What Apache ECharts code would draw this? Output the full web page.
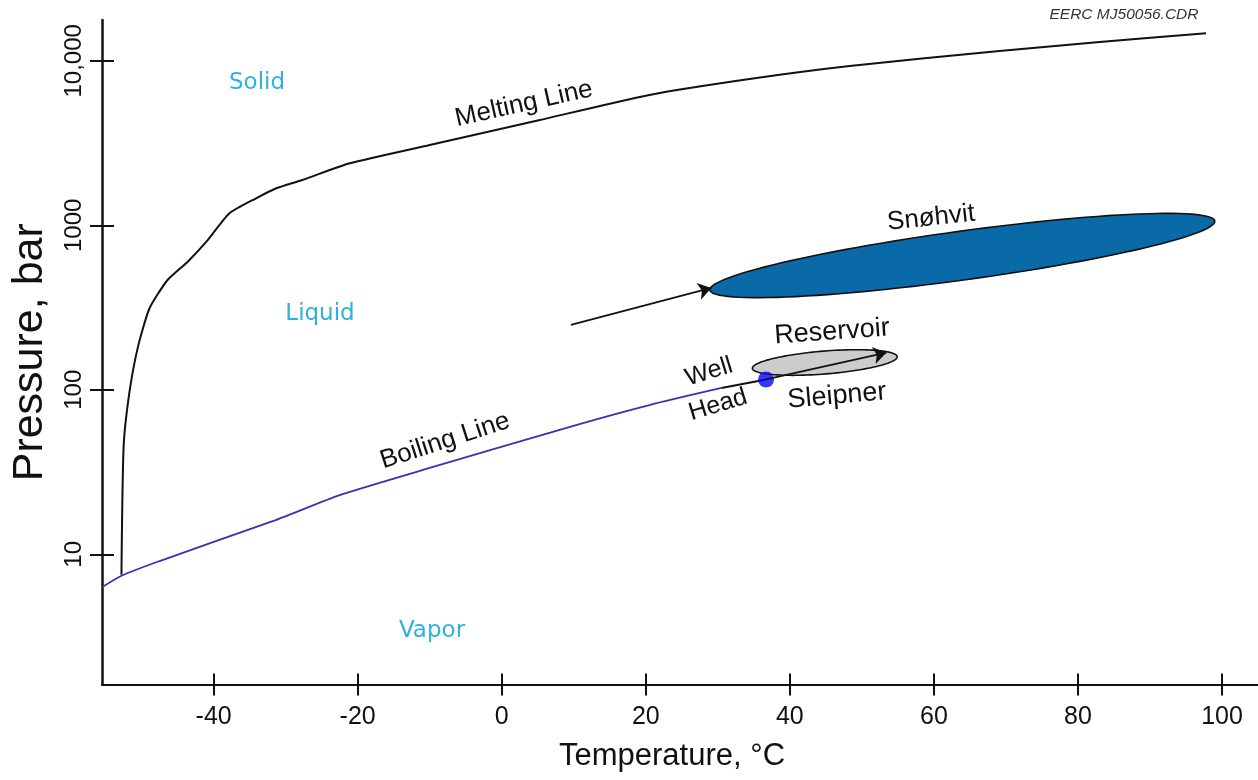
<!DOCTYPE html>
<html>
<head>
<meta charset="utf-8">
<script src="https://cdn.jsdelivr.net/npm/echarts@6/dist/echarts.min.js"></script>
<style>
html,body{margin:0;padding:0;background:#fff;}
#chart{width:1258px;height:780px;}
</style>
</head>
<body>
<div id="chart"></div>
<script>
// ---- data (temperature in °C, pressure in bar) ----
const tempTicks = [-40, -20, 0, 20, 40, 60, 80, 100];
const pressureTicks = [10, 100, 1000, 10000];

const meltingT = [-52.8, -52.5, -51.7, -50.5, -48.9, -46.4, -43.6, -41.0, -37.8, -34.1, -31.3, -27.7, -21.1, -10.0, 5.3, 20.5, 34.4, 48.3, 69.1, 83.0, 97.8];
const meltingP = [7.5, 45, 96, 183, 313, 465, 601, 795, 1183, 1459, 1679, 1885, 2382, 3076, 4366, 6198, 7745, 9290, 11470, 13000, 14690];

const boilingT = [-55.5, -52.8, -47.5, -31.3, -22.5, -10.0, 10.8, 20.5, 30.5];
const boilingP = [6.3, 7.4, 9.1, 16.2, 22.9, 33.5, 61.9, 80.8, 102.6];

const wellHeadLinkT = [30.5, 36.7];
const wellHeadLinkP = [102.6, 115.5];
const wellHead = [36.7, 115.5];

const sleipnerArrowT = [36.7, 53.4];
const sleipnerArrowP = [115.5, 168];
const snohvitArrowT = [9.6, 29.1];
const snohvitArrowP = [248, 416];

// ellipse: [T left end, P left end, T right end, P right end, T centre, P top edge at centre]
const snohvitEllipse = [28.9, 404, 99.0, 1062, 63.9, 924];
const sleipnerEllipse = [34.8, 135, 54.9, 159, 44.8, 172];

const chart = echarts.init(document.getElementById('chart'));
const FONT = '"Liberation Sans", Arial, Helvetica, sans-serif';
const RFONT = '"DejaVu Sans", Verdana, sans-serif';

function ellipseRender(fill) {
  return function (params, api) {
    const p1 = api.coord([api.value(0), api.value(1)]);
    const p2 = api.coord([api.value(2), api.value(3)]);
    const pt = api.coord([api.value(4), api.value(5)]);
    const cx = (p1[0] + p2[0]) / 2, cy = (p1[1] + p2[1]) / 2;
    const a = Math.hypot(p2[0] - p1[0], p2[1] - p1[1]) / 2;
    const ang = Math.atan2(p2[1] - p1[1], p2[0] - p1[0]);
    const b = Math.abs((pt[0] - cx) * Math.sin(ang) - (pt[1] - cy) * Math.cos(ang));
    const pts = [];
    for (let i = 0; i < 120; i++) {
      const t = i / 120 * Math.PI * 2;
      const ex = a * Math.cos(t), ey = b * Math.sin(t);
      pts.push([cx + ex * Math.cos(ang) - ey * Math.sin(ang), cy + ex * Math.sin(ang) + ey * Math.cos(ang)]);
    }
    return { type: 'polygon', shape: { points: pts }, style: { fill: fill, stroke: '#111', lineWidth: 1.6 } };
  };
}

const zip = (a, b) => a.map((v, i) => [v, b[i]]);

function txt(text, x, y, deg, size, color, family) {
  return {
    type: 'text', x: x, y: y, rotation: deg * Math.PI / 180, z: 100,
    style: { text: text, fontSize: size, fontFamily: family || FONT, fill: color || '#111', align: 'center', verticalAlign: 'middle' }
  };
}

const xBase = { type: 'value', min: -55.5, max: 105, splitLine: { show: false } };
const yBase = { type: 'log', logBase: 10, min: 1.616, max: 17700, splitLine: { show: false } };

chart.setOption({
  animation: false,
  backgroundColor: '#fff',
  grid: { left: 102, right: 0, top: 20, bottom: 95.5, containLabel: false, outerBoundsMode: 'none' },
  xAxis: [
    Object.assign({}, xBase, {
      position: 'bottom',
      name: 'Temperature, °C', nameLocation: 'middle', nameGap: 56,
      nameTextStyle: { fontSize: 31, fontFamily: FONT, color: '#111', padding: [0, 16, 0, 0] },
      axisLine: { show: true, onZero: false, lineStyle: { color: '#111', width: 2 } },
      axisTick: { show: true, inside: false, length: 11, lineStyle: { color: '#111', width: 2 }, customValues: tempTicks },
      axisLabel: { show: true, fontSize: 25, fontFamily: FONT, color: '#111', margin: 20, customValues: tempTicks }
    }),
    Object.assign({}, xBase, {
      position: 'bottom',
      axisLine: { show: false, onZero: false },
      axisTick: { show: true, inside: true, length: 11, lineStyle: { color: '#111', width: 2 }, customValues: tempTicks },
      axisLabel: { show: false }
    })
  ],
  yAxis: [
    Object.assign({}, yBase, {
      position: 'left',
      name: 'Pressure, bar', nameLocation: 'middle', nameGap: 50, nameRotate: 90,
      nameTextStyle: { fontSize: 43, fontFamily: FONT, color: '#111' },
      axisLine: { show: true, onZero: false, lineStyle: { color: '#111', width: 2.5 } },
      axisTick: { show: true, inside: false, length: 12, lineStyle: { color: '#111', width: 2 }, customValues: pressureTicks },
      axisLabel: {
        show: true, rotate: 90, fontSize: 24, fontFamily: FONT, color: '#111', margin: 16,
        customValues: pressureTicks,
        formatter: v => (v >= 10000 ? '10,000' : String(Math.round(v)))
      }
    }),
    Object.assign({}, yBase, {
      position: 'left',
      axisLine: { show: false, onZero: false },
      axisTick: { show: true, inside: true, length: 12, lineStyle: { color: '#111', width: 2 }, customValues: pressureTicks },
      axisLabel: { show: false }
    })
  ],
  series: [
    {
      name: 'Melting Line', type: 'line', data: zip(meltingT, meltingP),
      showSymbol: false, symbol: 'none', smooth: 0.2,
      lineStyle: { color: '#111', width: 2 }, z: 3
    },
    {
      name: 'Boiling Line', type: 'line', data: zip(boilingT, boilingP),
      showSymbol: false, symbol: 'none', smooth: 0.2,
      lineStyle: { color: '#3434b4', width: 1.8 }, z: 3
    },
    {
      name: 'Well link', type: 'line', data: zip(wellHeadLinkT, wellHeadLinkP),
      showSymbol: false, symbol: 'none',
      lineStyle: { color: '#111', width: 2 }, z: 3
    },
    {
      name: 'Snøhvit', type: 'custom', renderItem: ellipseRender('#0a6aa8'),
      data: [snohvitEllipse], z: 4
    },
    {
      name: 'Sleipner', type: 'custom', renderItem: ellipseRender('#cccccc'),
      data: [sleipnerEllipse], z: 4
    },
    {
      name: 'Well Head', type: 'scatter', data: [wellHead],
      symbol: 'circle', symbolSize: 16, itemStyle: { color: '#0505f5' }, z: 6
    },
    {
      name: 'arrows', type: 'lines', coordinateSystem: 'cartesian2d',
      symbol: ['none', 'arrow'], symbolSize: [0, 13],
      lineStyle: { color: '#111', width: 1.8, opacity: 1 },
      data: [
        { coords: zip(snohvitArrowT, snohvitArrowP) },
        { coords: zip(sleipnerArrowT, sleipnerArrowP) }
      ],
      z: 7
    }
  ],
  graphic: [
    txt('Solid', 257, 83, 0, 23, '#2cb2dc', RFONT),
    txt('Liquid', 320, 314, 0, 23, '#2cb2dc', RFONT),
    txt('Vapor', 432, 631, 0, 23, '#2cb2dc', RFONT),
    txt('Melting Line', 524, 104, 12.5, 26),
    txt('Boiling Line', 445, 441, 18, 26),
    txt('Snøhvit', 931, 218, 6, 26),
    txt('Reservoir', 832, 332, 4, 27),
    txt('Sleipner', 837, 396, 5, 27),
    txt('Well', 709, 372, 17, 25),
    txt('Head', 718, 405, 17, 25),
    {
      type: 'text', x: 1124, y: 15, z: 100,
      style: { text: 'EERC MJ50056.CDR', fontSize: 15.5, fontStyle: 'italic', fontFamily: FONT, fill: '#333', align: 'center', verticalAlign: 'middle' }
    }
  ]
});
</script>
</body>
</html>
